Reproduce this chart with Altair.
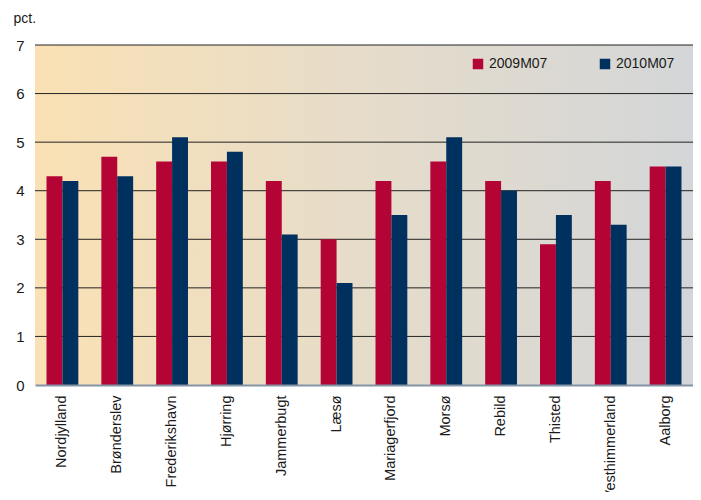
import altair as alt
import pandas as pd

regions = ["Nordjylland", "Brønderslev", "Frederikshavn", "Hjørring", "Jammerbugt",
           "Læsø", "Mariagerfjord", "Morsø", "Rebild", "Thisted", "Vesthimmerland", "Aalborg"]
v2009 = [4.3, 4.7, 4.6, 4.6, 4.2, 3.0, 4.2, 4.6, 4.2, 2.9, 4.2, 4.5]
v2010 = [4.2, 4.3, 5.1, 4.8, 3.1, 2.1, 3.5, 5.1, 4.0, 3.5, 3.3, 4.5]
series = ["2009M07", "2010M07"]
colors = ["#B30435", "#00305E"]
yticks = [0, 1, 2, 3, 4, 5, 6, 7]

rows = []
for r, a, b in zip(regions, v2009, v2010):
    rows.append({"region": r, "series": series[0], "value": a})
    rows.append({"region": r, "series": series[1], "value": b})
df = pd.DataFrame(rows)

W, H = 658, 340
yscale = alt.Scale(domain=[0, 7], nice=False)
yaxis = alt.Axis(values=yticks, grid=False, domain=False, ticks=False,
                 labelPadding=11, labelFontSize=15, labelColor="#1a1a1a",
                 title="pct.", titleAngle=0, titleAlign="left",
                 titleBaseline="alphabetic", titleX=-22, titleY=-23,
                 titleFontWeight="normal", titleFontSize=14,
                 titleColor="#1a1a1a", zindex=1)

bg = alt.Chart(pd.DataFrame({"a": [0]})).mark_rect(
    fill=alt.Gradient(
        gradient="linear",
        stops=[alt.GradientStop(color="#FAE1B4", offset=0),
               alt.GradientStop(color="#E6DCCA", offset=0.5),
               alt.GradientStop(color="#D3D6D8", offset=1)],
        x1=0, x2=1, y1=0, y2=0),
    strokeWidth=0,
).encode(x=alt.value(0), x2=alt.value(W), y=alt.value(0), y2=alt.value(H))

grid = alt.Chart(pd.DataFrame({"value": yticks[1:]})).mark_rule(
    color="#222222", strokeWidth=1
).encode(y=alt.Y("value:Q", scale=yscale, axis=yaxis))

bars = alt.Chart(df).mark_bar().encode(
    x=alt.X("region:N", sort=regions,
            scale=alt.Scale(paddingInner=0.42, paddingOuter=0.21),
            axis=alt.Axis(title=None, labelAngle=270, labelAlign="right",
                          labelBaseline="middle", labelPadding=10, labelFontSize=14.5,
                          labelColor="#1a1a1a", ticks=False, domainColor="#8494A6",
                          domainWidth=2, zindex=1)),
    xOffset=alt.XOffset("series:N", sort=series),
    y=alt.Y("value:Q", scale=yscale, axis=yaxis),
    color=alt.Color("series:N", scale=alt.Scale(domain=series, range=colors),
                    legend=alt.Legend(title=None, orient="none", legendX=436, legendY=12,
                                      direction="horizontal", symbolType="square",
                                      symbolSize=110, symbolStrokeWidth=0,
                                      labelFontSize=14, labelColor="#1a1a1a",
                                      labelOffset=4, columnPadding=50, padding=0)),
)

chart = alt.layer(bg, grid, bars).properties(
    width=W, height=H,
    autosize=alt.AutoSizeParams(type="none"),
    padding={"left": 27, "top": 37, "right": 0, "bottom": 107},
).configure(font="Liberation Sans").configure_view(stroke=None)

chart.save("out.html", embed_options={"renderer": "svg", "actions": False})
